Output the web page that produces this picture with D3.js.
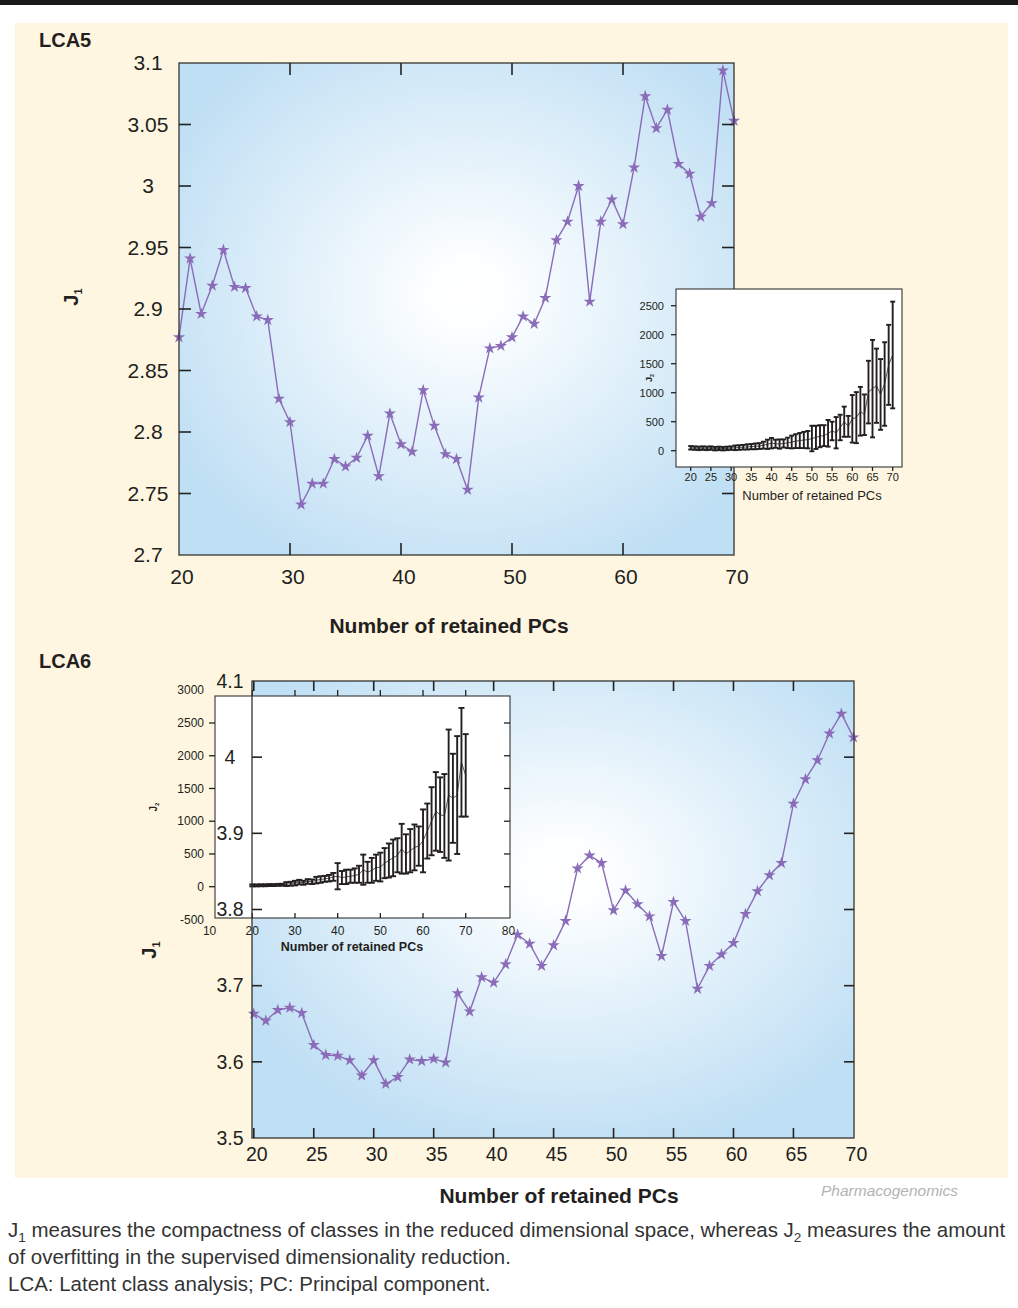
<!DOCTYPE html>
<html lang="en">
<head>
<meta charset="UTF-8">
<title>J1 / J2 vs number of retained PCs</title>
<script src="https://d3js.org/d3.v7.min.js"></script>
<style>
  body { margin: 0; background: #fff; }
  text { font-family: "Liberation Sans", Arial, sans-serif; fill: #231f20; }
</style>
</head>
<body>
<div id="chart"></div>
<script>
// ---- data ----
const pcs = [20,21,22,23,24,25,26,27,28,29,30,31,32,33,34,35,36,37,38,39,40,41,42,43,44,45,
             46,47,48,49,50,51,52,53,54,55,56,57,58,59,60,61,62,63,64,65,66,67,68,69,70];

// LCA5 main curve (J1)
const lca5J1 = [2.877,2.941,2.896,2.919,2.948,2.918,2.917,2.894,2.891,2.827,2.808,2.741,2.758,2.758,2.778,2.772,
                2.779,2.797,2.764,2.815,2.790,2.784,2.834,2.805,2.782,2.778,2.753,2.828,2.868,2.870,2.877,2.894,
                2.888,2.909,2.956,2.971,3.000,2.906,2.971,2.989,2.969,3.015,3.073,3.047,3.062,3.018,3.010,2.975,
                2.986,3.094,3.053];

// LCA6 main curve (J1)
const lca6J1 = [3.663,3.654,3.668,3.671,3.664,3.622,3.609,3.608,3.602,3.582,3.602,3.571,3.580,3.603,3.601,3.604,
                3.599,3.690,3.666,3.711,3.704,3.728,3.767,3.755,3.726,3.753,3.785,3.854,3.871,3.861,3.799,3.825,
                3.807,3.791,3.739,3.810,3.785,3.696,3.726,3.741,3.756,3.794,3.824,3.845,3.861,3.939,3.971,3.996,
                4.031,4.057,4.026];

// LCA5 inset (J2 mean and spread)
const lca5J2Mean = [50,45,40,45,40,45,35,40,35,40,45,50,55,60,65,70,75,80,95,110,130,120,115,125,135,150,
                    165,175,185,190,210,230,250,260,300,340,310,400,500,420,550,570,680,620,1010,1070,1120,970,1150,1480,1650];
const lca5J2Sd   = [30,30,30,30,30,30,30,30,30,30,30,40,40,40,45,45,50,50,60,80,90,70,80,70,90,110,
                    120,130,140,150,220,200,190,180,230,160,270,220,260,180,410,440,420,350,540,840,640,610,720,690,920];

// LCA6 inset (J2 mean and spread)
const lca6J2Mean = [20,20,22,22,25,25,28,30,40,45,55,70,60,80,75,100,110,120,130,150,160,140,150,160,170,190,
                    260,220,250,290,300,360,400,440,480,580,500,550,600,620,700,850,1000,1150,1100,1080,1400,1350,1400,1900,1700];
const lca6J2Sd   = [15,15,15,15,15,15,15,15,30,30,35,35,30,35,35,50,50,45,50,60,200,100,110,100,110,130,
                    230,160,190,200,220,230,260,280,260,380,300,330,350,300,480,420,520,600,570,640,1000,680,900,830,630];

// tick values
const lca5YTicks = [2.7,2.75,2.8,2.85,2.9,2.95,3,3.05,3.1];
const lca5XTicks = [20,30,40,50,60,70];
const lca6YTicks = [3.5,3.6,3.7,3.8,3.9,4,4.1];
const lca6XTicks = [20,25,30,35,40,45,50,55,60,65,70];
const inset5XTicks = [20,25,30,35,40,45,50,55,60,65,70];
const inset5YTicks = [0,500,1000,1500,2000,2500];
const inset6XTicks = [10,20,30,40,50,60,70,80];
const inset6YTicks = [-500,0,500,1000,1500,2000,2500,3000];

const captionLines = [
  [["J", false], ["1", true], [" measures the compactness of classes in the reduced dimensional space, whereas J", false], ["2", true], [" measures the amount", false]],
  [["of overfitting in the supervised dimensionality reduction.", false]],
  [["LCA: Latent class analysis; PC: Principal component.", false]]
];

// ---- drawing ----
const W = 1018, H = 1308;
const purple = "#8b6cb8";
const ink = "#231f20";

const svg = d3.select("#chart").append("svg")
    .attr("width", W)
    .attr("height", H);

const defs = svg.append("defs");
function addGradient(id, cx, cy) {
    const g = defs.append("radialGradient").attr("id", id)
        .attr("cx", cx).attr("cy", cy).attr("r", "0.62");
    g.append("stop").attr("offset", "0").attr("stop-color", "#ffffff");
    g.append("stop").attr("offset", "0.12").attr("stop-color", "#fcfeff");
    g.append("stop").attr("offset", "1").attr("stop-color", "#bfdff4");
}
addGradient("bg5", "0.52", "0.47");
addGradient("bg6", "0.52", "0.42");

// page frame
svg.append("rect").attr("x", 0).attr("y", 0).attr("width", W).attr("height", 5).attr("fill", "#1a1a1a");
svg.append("rect").attr("x", 15).attr("y", 23).attr("width", 993).attr("height", 1155).attr("fill", "#fef6e0");

const star = d3.symbol().type(d3.symbolStar).size(46);

function drawPlotBody(g, x, y, values, gradId) {
    const [x0, x1] = x.range();
    const [y0, y1] = y.range();
    g.append("rect")
        .attr("x", x0).attr("y", y1)
        .attr("width", x1 - x0).attr("height", y0 - y1)
        .attr("fill", `url(#${gradId})`);

    const line = d3.line().x((d, i) => x(pcs[i])).y(d => y(d));
    g.append("path")
        .datum(values)
        .attr("d", line)
        .attr("fill", "none")
        .attr("stroke", purple)
        .attr("stroke-width", 1.4);

    g.selectAll("path.star")
        .data(values)
        .join("path")
        .attr("class", "star")
        .attr("d", star)
        .attr("transform", (d, i) => `translate(${x(pcs[i])},${y(d)})`)
        .attr("fill", purple);
}

function drawPlotFrame(g, x, y, xTicks, yTicks, o) {
    const [x0, x1] = x.range();
    const [y0, y1] = y.range();
    g.append("rect")
        .attr("x", x0).attr("y", y1)
        .attr("width", x1 - x0).attr("height", y0 - y1)
        .attr("fill", "none")
        .attr("stroke", "#333")
        .attr("stroke-width", 1.3);

    const tl = o.tickLen;
    const innerY = yTicks.filter(t => y(t) > y1 + 1 && y(t) < y0 - 1);
    const innerX = xTicks.filter(t => x(t) > x0 + 1 && x(t) < x1 - 1);

    // inward ticks on all four sides
    g.selectAll("line.yl").data(innerY).join("line")
        .attr("x1", x0).attr("x2", x0 + tl).attr("y1", d => y(d)).attr("y2", d => y(d));
    g.selectAll("line.yr").data(innerY).join("line")
        .attr("x1", x1 - tl).attr("x2", x1).attr("y1", d => y(d)).attr("y2", d => y(d));
    g.selectAll("line.xb").data(innerX).join("line")
        .attr("x1", d => x(d)).attr("x2", d => x(d)).attr("y1", y0).attr("y2", y0 - tl);
    g.selectAll("line.xt").data(innerX).join("line")
        .attr("x1", d => x(d)).attr("x2", d => x(d)).attr("y1", y1).attr("y2", y1 + tl);
    g.selectAll("line").attr("stroke", "#222").attr("stroke-width", 1.6);

    g.append("g").selectAll("text").data(yTicks).join("text")
        .attr("x", o.yLabelX)
        .attr("y", d => y(d))
        .attr("dy", "0.35em")
        .attr("text-anchor", "middle")
        .style("font-size", o.fs + "px")
        .text(d => d);

    g.append("g").selectAll("text").data(xTicks).join("text")
        .attr("x", d => x(d) + 3)
        .attr("y", o.xLabelY)
        .attr("text-anchor", "middle")
        .style("font-size", o.fs + "px")
        .text(d => d);

    g.append("text")
        .attr("x", o.titleX).attr("y", o.titleY)
        .attr("text-anchor", "middle")
        .style("font-size", "21px").style("font-weight", "bold")
        .text("Number of retained PCs");

    const jl = g.append("text")
        .attr("transform", `translate(${o.jX},${o.jY}) rotate(-90)`)
        .attr("text-anchor", "middle")
        .style("font-size", "20px").style("font-weight", "bold");
    jl.append("tspan").text("J");
    jl.append("tspan").attr("dy", 4).style("font-size", "11px").text("1");

    g.append("text")
        .attr("x", 39).attr("y", o.panelY)
        .style("font-size", "20px").style("font-weight", "bold")
        .text(o.panel);
}

function drawInset(g, box, x, y, mean, sd, xTicks, yTicks, o) {
    g.append("rect")
        .attr("x", box.x0).attr("y", box.y0)
        .attr("width", box.x1 - box.x0).attr("height", box.y1 - box.y0)
        .attr("fill", "#fff");

    // mean line
    g.append("path")
        .datum(mean)
        .attr("d", d3.line().x((d, i) => x(pcs[i])).y(d => y(d)))
        .attr("fill", "none")
        .attr("stroke", "#555")
        .attr("stroke-width", 1);

    // error bars
    const cap = o.cap;
    const eb = g.append("g").attr("stroke", ink).attr("stroke-width", 1.9);
    pcs.forEach((p, i) => {
        const xp = x(p), lo = y(mean[i] - sd[i]), hi = y(mean[i] + sd[i]);
        eb.append("line").attr("x1", xp).attr("x2", xp).attr("y1", lo).attr("y2", hi);
        eb.append("line").attr("x1", xp - cap).attr("x2", xp + cap).attr("y1", lo).attr("y2", lo);
        eb.append("line").attr("x1", xp - cap).attr("x2", xp + cap).attr("y1", hi).attr("y2", hi);
    });

    g.append("rect")
        .attr("x", box.x0).attr("y", box.y0)
        .attr("width", box.x1 - box.x0).attr("height", box.y1 - box.y0)
        .attr("fill", "none").attr("stroke", "#333").attr("stroke-width", 1.1);

    const tk = g.append("g").attr("stroke", "#222").attr("stroke-width", 1.3);
    const inY = yTicks.filter(t => y(t) > box.y0 && y(t) < box.y1);
    const inX = xTicks.filter(t => x(t) > box.x0 + 2 && x(t) < box.x1 - 2);
    inY.forEach(t => {
        tk.append("line").attr("x1", box.x0 - o.tick).attr("x2", box.x0).attr("y1", y(t)).attr("y2", y(t));
        if (o.rightTicks) tk.append("line").attr("x1", box.x1 - o.tick).attr("x2", box.x1).attr("y1", y(t)).attr("y2", y(t));
    });
    inX.forEach(t => {
        if (o.bottomOut) tk.append("line").attr("x1", x(t)).attr("x2", x(t)).attr("y1", box.y1).attr("y2", box.y1 + 4);
        else tk.append("line").attr("x1", x(t)).attr("x2", x(t)).attr("y1", box.y1 - 5).attr("y2", box.y1);
        if (o.topTicks) tk.append("line").attr("x1", x(t)).attr("x2", x(t)).attr("y1", box.y0 - 6).attr("y2", box.y0);
    });

    g.append("g").selectAll("text").data(yTicks).join("text")
        .attr("x", o.yLabelX).attr("y", d => y(d)).attr("dy", "0.35em")
        .attr("text-anchor", "end")
        .style("font-size", o.fs + "px")
        .text(d => d);
    g.append("g").selectAll("text").data(xTicks).join("text")
        .attr("x", d => x(d)).attr("y", o.xLabelY)
        .attr("text-anchor", "middle")
        .style("font-size", o.fs + "px")
        .text(d => d);

    g.append("text")
        .attr("x", o.titleX).attr("y", o.titleY)
        .attr("text-anchor", "middle")
        .style("font-size", o.titleFs + "px")
        .style("font-weight", o.titleBold ? "bold" : "normal")
        .text("Number of retained PCs");

    const jl = g.append("text")
        .attr("transform", `translate(${o.jX},${o.jY}) rotate(-90)`)
        .attr("text-anchor", "middle")
        .style("font-size", o.jFs + "px").style("font-weight", "bold");
    jl.append("tspan").text("J");
    jl.append("tspan").attr("dy", 2).style("font-size", (o.jFs * 0.6) + "px").text("2");
}

// ---- LCA5 ----
const x5 = d3.scaleLinear().domain([20, 70]).range([179, 734]);
const y5 = d3.scaleLinear().domain([2.7, 3.1]).range([555, 63]);
const g5 = svg.append("g");
drawPlotBody(g5, x5, y5, lca5J1, "bg5");
drawPlotFrame(g5, x5, y5, lca5XTicks, lca5YTicks, {
    tickLen: 12, fs: 21, yLabelX: 148, xLabelY: 584, titleX: 449, titleY: 633,
    jX: 78, jY: 297, panel: "LCA5", panelY: 47
});

const xi5 = d3.scaleLinear().domain([20, 70]).range([690.7, 892.7]);
const yi5 = d3.scaleLinear().domain([0, 2500]).range([450.7, 305.7]);
drawInset(svg.append("g"), { x0: 676, x1: 902, y0: 289, y1: 467 }, xi5, yi5,
    lca5J2Mean, lca5J2Sd, inset5XTicks, inset5YTicks, {
    cap: 2.5, tick: 5, rightTicks: false, topTicks: false, bottomOut: true,
    yLabelX: 664, xLabelY: 481, fs: 11,
    titleX: 812, titleY: 500, titleFs: 13, titleBold: false,
    jX: 652, jY: 378, jFs: 9
});

// ---- LCA6 ----
const x6 = d3.scaleLinear().domain([19.85, 70.05]).range([252, 854]);
const y6 = d3.scaleLinear().domain([3.5, 4.1]).range([1138, 681]);
const g6a = svg.append("g");
drawPlotBody(g6a, x6, y6, lca6J1, "bg6");

const xi6 = d3.scaleLinear().domain([10, 80]).range([209.6, 508.4]);
const yi6 = d3.scaleLinear().domain([0, 2500]).range([886.7, 723]);
drawInset(svg.append("g"), { x0: 215, x1: 510, y0: 696, y1: 918 }, xi6, yi6,
    lca6J2Mean, lca6J2Sd, inset6XTicks, inset6YTicks, {
    cap: 3, tick: 6, rightTicks: true, topTicks: true, bottomOut: false,
    yLabelX: 204, xLabelY: 935, fs: 12,
    titleX: 352, titleY: 951, titleFs: 12.5, titleBold: true,
    jX: 157, jY: 807, jFs: 10
});

const g6b = svg.append("g");
drawPlotFrame(g6b, x6, y6, lca6XTicks, lca6YTicks, {
    tickLen: 10, fs: 19.5, yLabelX: 230, xLabelY: 1161, titleX: 559, titleY: 1203,
    jX: 156, jY: 950, panel: "LCA6", panelY: 668
});

svg.append("text")
    .attr("x", 958).attr("y", 1196)
    .attr("text-anchor", "end")
    .style("font-size", "15.5px").style("font-style", "italic")
    .style("fill", "#b3b3b3")
    .text("Pharmacogenomics");

// ---- caption ----
const cap = svg.append("g").style("font-size", "18px");
const capY = [1237, 1264, 1291];
const capNodes = captionLines.map((parts, li) => {
    const t = cap.append("text").attr("x", 8).attr("y", capY[li]).style("fill", "#333");
    parts.forEach(([s, sub], pi) => {
        const ts = t.append("tspan").text(s);
        if (sub) ts.attr("dy", 5).attr("class", "sub").style("font-size", "12px");
        else if (pi > 0) ts.attr("dy", -5);
    });
    return t;
});
// scale caption so the first line spans the page like in the figure
const w0 = capNodes[0].node().getComputedTextLength();
const k = 998 / w0;
cap.style("font-size", (18 * k) + "px");
cap.selectAll("tspan.sub").style("font-size", (12 * k) + "px");
</script>
</body>
</html>
